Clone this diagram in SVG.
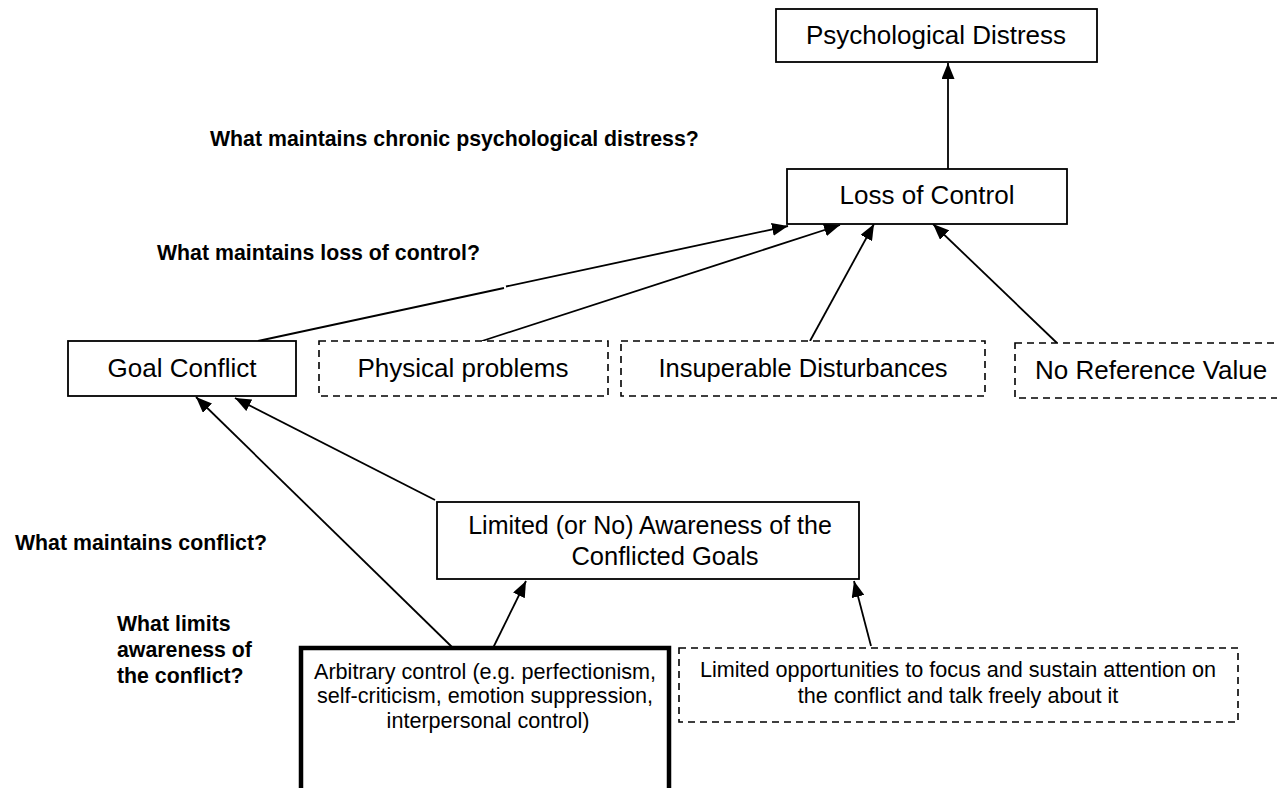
<svg xmlns="http://www.w3.org/2000/svg" width="1277" height="788" viewBox="0 0 1277 788">
  <style>
    .box { fill: #ffffff; stroke: #000000; stroke-width: 1.8; }
    .dash { fill: #ffffff; stroke: #000000; stroke-width: 1.6; stroke-dasharray: 7 5; }
    .thick { fill: #ffffff; stroke: #000000; stroke-width: 4.5; }
    .lbl { font-family: "Liberation Sans", Arial, sans-serif; font-size: 26px; fill: #000000; text-anchor: middle; }
    .small { font-family: "Liberation Sans", Arial, sans-serif; font-size: 21.6px; fill: #000000; text-anchor: middle; }
    .q { font-family: "Liberation Sans", Arial, sans-serif; font-size: 21.3px; font-weight: bold; fill: #000000; }
    .conn line { stroke: #000000; stroke-width: 1.8; }
    .conn line.arr { marker-end: url(#arrow); }
  </style>
  <defs>
    <marker id="arrow" markerUnits="userSpaceOnUse" viewBox="0 0 16 13" refX="16" refY="6.5" markerWidth="16" markerHeight="13" orient="auto">
      <path d="M0,0 L16,6.5 L0,13 Z" fill="#000000"/>
    </marker>
  </defs>
  <rect width="1277" height="788" fill="#ffffff"/>

  <!-- guiding questions -->
  <g id="questions">
    <text class="q" x="210" y="146">What maintains chronic psychological distress?</text>
    <text class="q" x="157" y="260">What maintains loss of control?</text>
    <text class="q" x="15" y="550">What maintains conflict?</text>
    <text class="q" x="117" y="631">What limits</text>
    <text class="q" x="117" y="657">awareness of</text>
    <text class="q" x="117" y="683">the conflict?</text>
  </g>

  <!-- connectors -->
  <g id="connectors" class="conn">
    <line class="arr" x1="948" y1="169" x2="948" y2="63"/>
    <line x1="258" y1="341" x2="504" y2="288"/>
    <line class="arr" x1="506" y1="286.5" x2="788" y2="226"/>
    <line class="arr" x1="482" y1="341" x2="840" y2="225"/>
    <line class="arr" x1="810" y1="341" x2="874" y2="224"/>
    <line class="arr" x1="1057" y1="343" x2="933" y2="224"/>
    <line class="arr" x1="453" y1="648" x2="196" y2="397"/>
    <line class="arr" x1="435" y1="500" x2="235" y2="398"/>
    <line class="arr" x1="493" y1="648" x2="526" y2="581"/>
    <line class="arr" x1="871" y1="646" x2="854" y2="581"/>
  </g>

  <g id="psychological-distress">
    <rect class="box" x="776" y="9" width="321" height="53"/>
    <text class="lbl" x="936" y="44">Psychological Distress</text>
  </g>

  <g id="loss-of-control">
    <rect class="box" x="787" y="169" width="280" height="55"/>
    <text class="lbl" x="927" y="204">Loss of Control</text>
  </g>

  <g id="goal-conflict">
    <rect class="box" x="68" y="341" width="228" height="55"/>
    <text class="lbl" x="182" y="377">Goal Conflict</text>
  </g>

  <g id="physical-problems">
    <rect class="dash" x="319" y="341" width="289" height="55"/>
    <text class="lbl" x="463" y="377">Physical problems</text>
  </g>

  <g id="insuperable-disturbances">
    <rect class="dash" x="621" y="341" width="364" height="55"/>
    <text class="lbl" x="803" y="377" style="font-size: 25.5px">Insuperable Disturbances</text>
  </g>

  <g id="no-reference-value">
    <rect class="dash" x="1015" y="343" width="290" height="55"/>
    <text class="lbl" x="1035" y="379" style="text-anchor: start">No Reference Value</text>
  </g>

  <g id="limited-awareness">
    <rect class="box" x="437" y="502" width="422" height="77"/>
    <text class="lbl" x="650" y="534" style="font-size: 25px">Limited (or No) Awareness of the</text>
    <text class="lbl" x="665" y="565" style="font-size: 25.5px">Conflicted Goals</text>
  </g>

  <g id="arbitrary-control">
    <rect class="thick" x="301" y="648" width="368" height="160"/>
    <text class="small" x="485" y="679">Arbitrary control (e.g. perfectionism,</text>
    <text class="small" x="485" y="703">self-criticism, emotion suppression,</text>
    <text class="small" x="488" y="728">interpersonal control)</text>
  </g>

  <g id="limited-opportunities">
    <rect class="dash" x="679" y="648" width="559" height="74"/>
    <text class="small" x="958" y="677">Limited opportunities to focus and sustain attention on</text>
    <text class="small" x="958" y="703">the conflict and talk freely about it</text>
  </g>
</svg>
